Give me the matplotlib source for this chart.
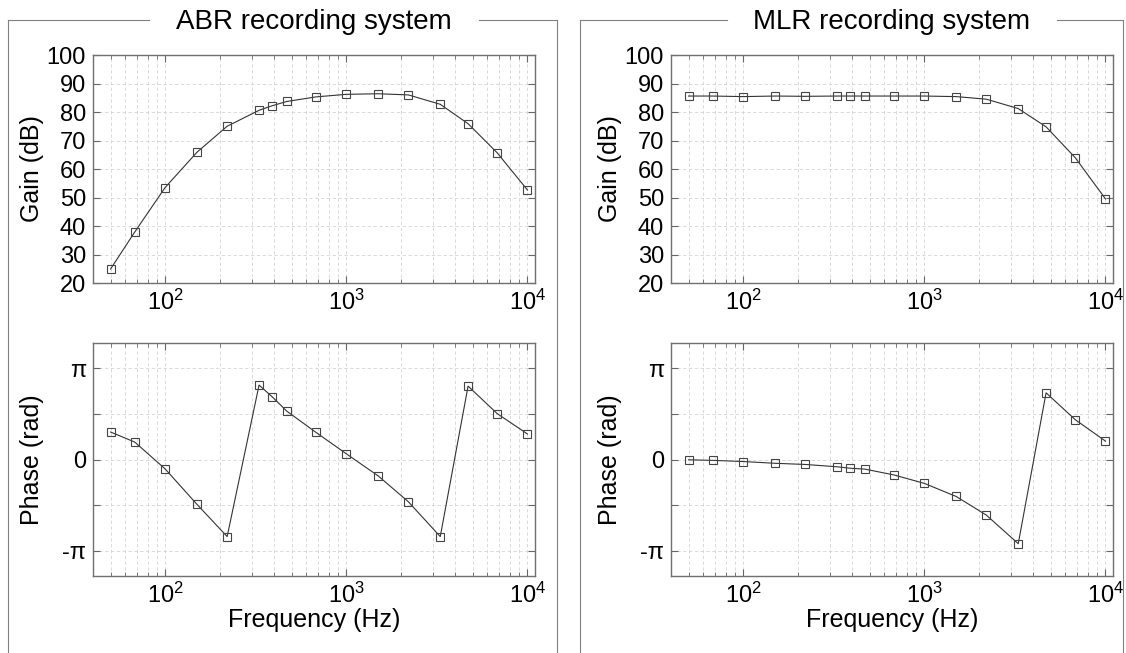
import numpy as np
import matplotlib.pyplot as plt
from matplotlib.lines import Line2D
from matplotlib.ticker import LogLocator, NullFormatter

plt.rcParams['font.family'] = ['Liberation Sans', 'DejaVu Sans']

freq = [50, 68, 100, 150, 220, 330, 390, 470, 680, 1000, 1500, 2200, 3300, 4700, 6800, 10000]

abr_gain = [24.9, 37.9, 53.5, 65.9, 75.0, 80.6, 82.2, 83.7, 85.3, 86.2, 86.4, 86.0, 82.7, 75.9, 65.7, 52.6]
abr_phase = [0.944, 0.598, -0.322, -1.542, -2.647, 2.555, 2.152, 1.657, 0.932, 0.196,
             -0.564, -1.45, -2.647, 2.52, 1.577, 0.875]

mlr_gain = [85.6, 85.6, 85.4, 85.6, 85.5, 85.6, 85.6, 85.6, 85.6, 85.6, 85.4, 84.5, 81.2, 74.8, 64.0, 49.5]
mlr_phase = [-0.01, -0.03, -0.07, -0.13, -0.17, -0.25, -0.30, -0.33, -0.53, -0.82,
             -1.27, -1.91, -2.89, 2.29, 1.37, 0.63]

titles = ['ABR recording system', 'MLR recording system']

W, H = 1126, 653
fig = plt.figure(figsize=(W / 100, H / 100), dpi=100)


def px(x0, y_top, x1, y_bot):
    return [x0 / W, 1 - y_bot / H, (x1 - x0) / W, (y_bot - y_top) / H]


def style(ax):
    ax.set_xscale('log')
    ax.set_xlim(40, 11000)
    ax.xaxis.set_minor_locator(LogLocator(base=10, subs=np.arange(2, 10)))
    ax.xaxis.set_minor_formatter(NullFormatter())
    ax.grid(True, which='both', color='#d4d4d4', linestyle=(0, (4, 3)), linewidth=0.6)
    ax.tick_params(which='both', direction='in', top=True, right=True,
                   color='#666666', labelsize=17, pad=5)
    ax.tick_params(which='major', length=5)
    ax.tick_params(which='minor', length=3)
    for s in ax.spines.values():
        s.set_color('#707070')
        s.set_linewidth(1.0)
    ax.set_axisbelow(True)


def plot_line(ax, y):
    ax.plot(freq, y, color='#333333', linewidth=0.8, marker='s', markersize=6,
            markerfacecolor='none', markeredgecolor='#444444', markeredgewidth=0.8)


panels = [(93, 535, abr_gain, abr_phase, 8, 557), (671, 1113, mlr_gain, mlr_phase, 580, 1123)]

for i, (xa, xb, gain, phase, fx0, fx1) in enumerate(panels):
    ax1 = fig.add_axes(px(xa, 55, xb, 283))
    style(ax1)
    plot_line(ax1, gain)
    ax1.set_ylim(20, 100)
    ax1.set_yticks(np.arange(20, 101, 10))
    ax1.set_ylabel('Gain (dB)', fontsize=18)
    ax1.yaxis.set_label_coords(-0.11, 0.5)

    ax2 = fig.add_axes(px(xa, 343, xb, 576))
    style(ax2)
    plot_line(ax2, phase)
    ax2.set_ylim(-4, 4)
    ax2.set_yticks([-np.pi, -np.pi / 2, 0, np.pi / 2, np.pi])
    ax2.set_yticklabels(['-π', '', '0', '', 'π'])
    ax2.set_ylabel('Phase (rad)', fontsize=18)
    ax2.yaxis.set_label_coords(-0.11, 0.5)
    ax2.set_xlabel('Frequency (Hz)', fontsize=18, labelpad=0)

    # frame around the panel, with the title set into the top line
    cx = (xa + xb) / 2
    gap = 165
    fcol = '#808080'
    ytop = 1 - 20 / H
    fig.add_artist(Line2D([fx0 / W, fx0 / W], [0, ytop], color=fcol, lw=0.8))
    fig.add_artist(Line2D([fx1 / W, fx1 / W], [0, ytop], color=fcol, lw=0.8))
    fig.add_artist(Line2D([fx0 / W, (cx - gap) / W], [ytop, ytop], color=fcol, lw=0.8))
    fig.add_artist(Line2D([(cx + gap) / W, fx1 / W], [ytop, ytop], color=fcol, lw=0.8))
    fig.text(cx / W, 1 - 22 / H, titles[i], ha='center', va='center', fontsize=20)

fig.savefig('out.png', dpi=100)
